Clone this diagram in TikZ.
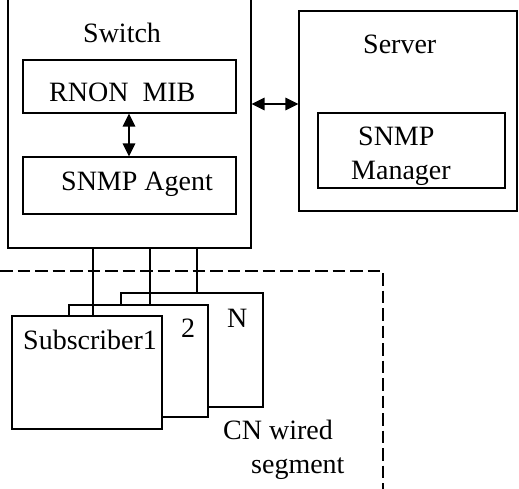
\documentclass[tikz,border=0pt]{standalone}
\usepackage{fontspec}
\setmainfont{Liberation Serif}
\usetikzlibrary{arrows.meta,fit}
\begin{document}
\begin{tikzpicture}[x=1pt,y=-1pt,
  box/.style={draw=black, line width=1.3pt, fill=white, inner sep=0pt},
  lbl/.style={inner sep=0pt, anchor=base west, font=\fontsize{28}{32}\selectfont},
  wire/.style={draw=black, line width=1.3pt},
  dbl/.style={line width=1.6pt, {Triangle[length=13pt,width=12.5pt]}-{Triangle[length=13pt,width=12.5pt]}},
  region/.style={line width=1.3pt, dash pattern=on 12.5pt off 5pt}]
\useasboundingbox (0,0) rectangle (519,489);
% switch
\node[box, fit={(8,-4)(251,248)}] (sw) {};
\node[lbl] (swl) at (83,43) {Switch};
\node[box, fit={(23,60)(236,113)}] (mib) {};
\node[lbl] (mibl) at (49,102) {RNON~~MIB};
\node[box, fit={(23,157)(236,214)}] (agent) {};
\node[lbl] (agentl) at (61,190) {SNMP Agent};
\draw[dbl] (mib.south -| 129,0) -- (agent.north -| 129,0);
% server
\node[box, fit={(299,11)(517,211)}] (srv) {};
\node[lbl] (srvl) at (363,54) {Server};
\node[box, fit={(318,113)(505,188)}] (mgr) {};
\node[lbl] (mgrl1) at (358,146) {SNMP};
\node[lbl] (mgrl2) at (351,180) {Manager};
\coordinate (ay) at (0,104);
\draw[dbl] (sw.east |- ay) -- (srv.west |- ay);
% region
\draw[region] (0,271) -- (383,271) -- (383,495);
% subscribers
\node[box, fit={(121,293)(263,407)}] (sN) {};
\node[box, fit={(69,305)(208,417)}] (s2) {};
\node[box, fit={(12,316)(162,429)}] (s1) {};
\node[lbl] (sNl) at (227,327) {N};
\node[lbl] (s2l) at (181,337) {2};
\node[lbl] (s1l) at (23,349) {Subscriber1};
\coordinate (l1) at (93,0);
\coordinate (l2) at (150,0);
\coordinate (l3) at (197,0);
\draw[wire] (sw.south -| l1) -- (s1.north -| l1);
\draw[wire] (sw.south -| l2) -- (s2.north -| l2);
\draw[wire] (sw.south -| l3) -- (sN.north -| l3);
\node[lbl] (cn1) at (223,439) {CN wired};
\node[lbl] (cn2) at (251,473) {segment};
\end{tikzpicture}
\end{document}
